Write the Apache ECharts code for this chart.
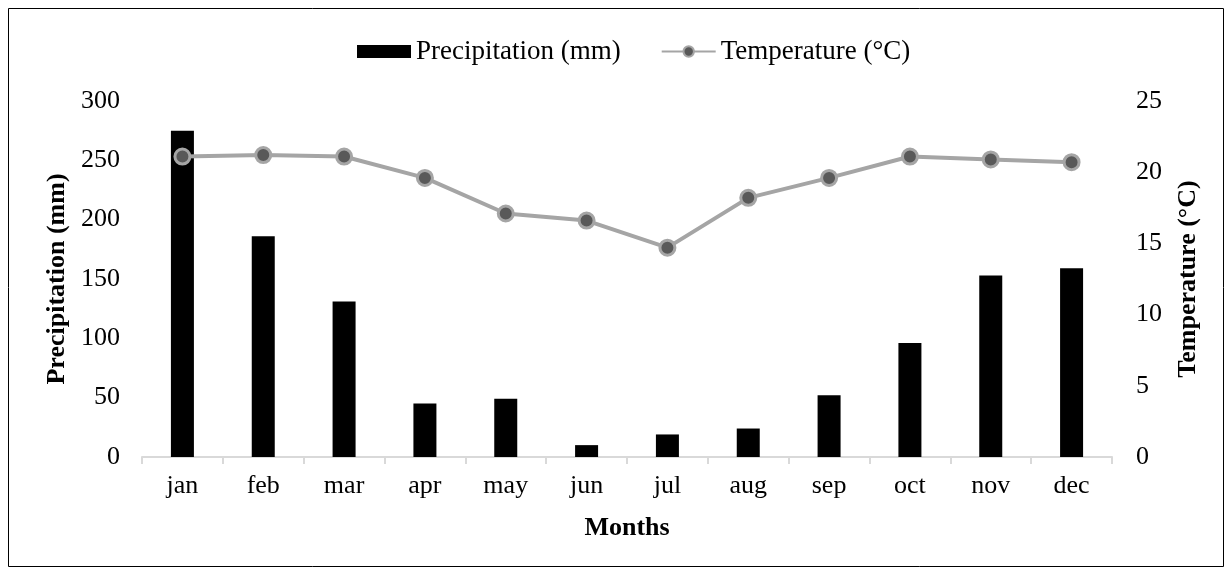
<!DOCTYPE html>
<html><head><meta charset="utf-8">
<script src="https://cdn.jsdelivr.net/npm/echarts@6/dist/echarts.min.js"></script>
<style>html,body{margin:0;padding:0;background:#fff}#c{width:1232px;height:575px}</style>
</head><body><div id="c"></div>
<script>
const months = ['jan','feb','mar','apr','may','jun','jul','aug','sep','oct','nov','dec'];
const precipitation = [275, 186, 131, 45, 49, 10, 19, 24, 52, 96, 153, 159];
const temperature = [21.1, 21.2, 21.1, 19.6, 17.1, 16.6, 14.7, 18.2, 19.6, 21.1, 20.9, 20.7];
const leftTicks = [0, 300, 50];
const rightTicks = [0, 25, 5];

const font = 'Liberation Serif, Times New Roman, serif';
const chart = echarts.init(document.getElementById('c'));
chart.setOption({
  animation: false,
  textStyle: {fontFamily: font},
  graphic: [{type: 'rect', shape: {x: 8.5, y: 8.5, width: 1215, height: 558},
    style: {fill: 'none', stroke: '#000', lineWidth: 1}}],
  legend: {
    top: 33, left: 352, itemGap: 40, itemWidth: 54, itemHeight: 13,
    textStyle: {fontFamily: font, fontSize: 27, color: '#000'},
    data: [
      {name: 'Precipitation (mm)', icon: 'rect'},
      {name: 'Temperature (°C)'}
    ]
  },
  grid: {left: 142, right: 120, top: 101, bottom: 118},
  xAxis: {
    type: 'category', data: months,
    axisLine: {lineStyle: {color: '#d9d9d9', width: 2}},
    axisTick: {show: true, length: 7, lineStyle: {color: '#d9d9d9', width: 2}},
    axisLabel: {color: '#000', fontSize: 26, fontFamily: font, margin: 16},
    name: 'Months', nameLocation: 'middle', nameGap: 58,
    nameTextStyle: {color: '#000', fontSize: 26, fontWeight: 'bold', fontFamily: font}
  },
  yAxis: [{
    type: 'value', min: leftTicks[0], max: leftTicks[1], interval: leftTicks[2],
    splitLine: {show: false}, axisLine: {show: false}, axisTick: {show: false},
    axisLabel: {color: '#000', fontSize: 26, fontFamily: font, margin: 22},
    name: 'Precipitation (mm)', nameLocation: 'middle', nameGap: 70, nameRotate: 90,
    nameTextStyle: {color: '#000', fontSize: 26, fontWeight: 'bold', fontFamily: font}
  }, {
    type: 'value', min: rightTicks[0], max: rightTicks[1], interval: rightTicks[2],
    splitLine: {show: false}, axisLine: {show: false}, axisTick: {show: false},
    axisLabel: {color: '#000', fontSize: 26, fontFamily: font, margin: 24},
    name: 'Temperature (°C)', nameLocation: 'middle', nameGap: 63, nameRotate: 90,
    nameTextStyle: {color: '#000', fontSize: 26, fontWeight: 'bold', fontFamily: font}
  }],
  series: [{
    name: 'Precipitation (mm)', type: 'bar', data: precipitation, barWidth: 23,
    itemStyle: {color: '#000'}
  }, {
    name: 'Temperature (°C)', type: 'line', yAxisIndex: 1, data: temperature,
    symbol: 'circle', symbolSize: 15,
    lineStyle: {color: '#a5a5a5', width: 4},
    itemStyle: {color: '#595959', borderColor: '#a5a5a5', borderWidth: 3}
  }]
});
</script></body></html>
